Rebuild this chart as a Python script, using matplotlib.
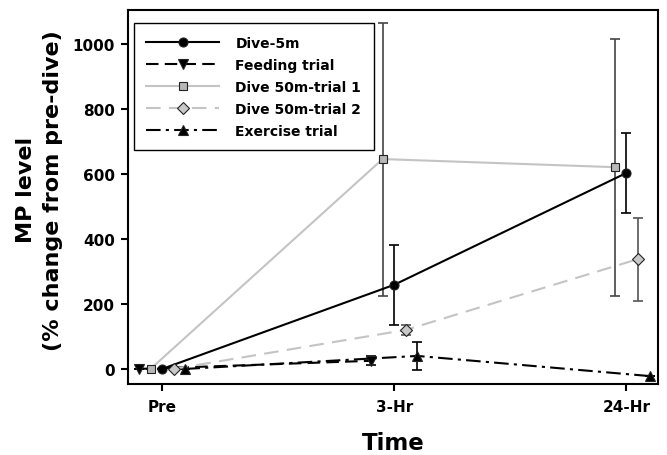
import numpy as np
from matplotlib import pyplot as plt

plt.rcParams['font.family'] = ['DejaVu Sans']
plt.rcParams['font.weight'] = 'bold'

times = ['Pre', '3-Hr', '24-Hr']

dive5_mean = [0, 259, 603]
dive5_err = [0, 123, 123]
feed_mean = [0, 25]
feed_err = [0, 14]
trial1_mean = [0, 646, 621]
trial1_err = [0, 420, 395]
trial2_mean = [0, 120, 338]
trial2_err = [0, 16, 128]
exer_mean = [0, 40, -22]
exer_err = [0, 44, 0]

fig = plt.figure(figsize=(6.67, 4.56), dpi=100)
ax = fig.add_axes([0.192, 0.156, 0.795, 0.82])

# series: label, means, errors, x offset, line colour, linestyle, marker, size, face, errbar colour
series = [
    ('Dive-5m', dive5_mean, dive5_err, 0.0, 'black', '-', 'o', 6.5, 'black', 'black'),
    ('Feeding trial', feed_mean, feed_err, -0.1, 'black', (0, (6, 3)), 'v', 7, 'black', 'black'),
    ('Dive 50m-trial 1', trial1_mean, trial1_err, -0.05, '#c4c4c4', '-', 's', 5.5, '#b8b8b8', '#444444'),
    ('Dive 50m-trial 2', trial2_mean, trial2_err, 0.05, '#c4c4c4', (0, (7, 4)), 'D', 6, '#c8c8c8', '#555555'),
    ('Exercise trial', exer_mean, exer_err, 0.1, 'black', (0, (7, 2.5, 1.5, 2.5)), '^', 7, 'black', 'black'),
]

for label, m, e, off, col, ls, mk, ms, face, ecol in series:
    x = np.arange(len(m)) + off
    ax.errorbar(x, m, yerr=e, fmt='none', ecolor=ecol, elinewidth=1.2,
                capsize=3.8, capthick=1.2, zorder=2)
    ax.plot(x, m, color=col, linestyle=ls, linewidth=1.5, marker=mk,
            markersize=ms, markerfacecolor=face, markeredgecolor='#222222',
            markeredgewidth=0.8, label=label, zorder=3)

ax.set_xlim(-0.147, 2.138)
ax.set_ylim(-46, 1105)
ax.set_xticks(range(len(times)))
ax.set_xticklabels(times)
ax.set_yticks([0, 200, 400, 600, 800, 1000])
ax.tick_params(axis='both', direction='out', length=5, width=1.5, labelsize=11)
ax.tick_params(axis='x', pad=6)
ax.tick_params(axis='y', pad=4.5)
for s in ax.spines.values():
    s.set_linewidth(1.5)

ax.set_xlabel('Time', fontsize=16.5, fontweight='bold')
ax.xaxis.set_label_coords(0.501, -0.127)
ax.set_ylabel('MP level\n(% change from pre-dive)', fontsize=16,
              fontweight='bold', linespacing=1.45)
ax.yaxis.set_label_coords(-0.123, 0.52)

leg = ax.legend(loc='upper left', bbox_to_anchor=(0.011, 0.965), borderaxespad=0,
                fontsize=10, handlelength=5.2, handletextpad=1.2, fancybox=False,
                framealpha=1, edgecolor='black', labelspacing=0.58, borderpad=0.9)
leg.get_frame().set_linewidth(1.0)

fig.savefig('out.png', dpi=100)
